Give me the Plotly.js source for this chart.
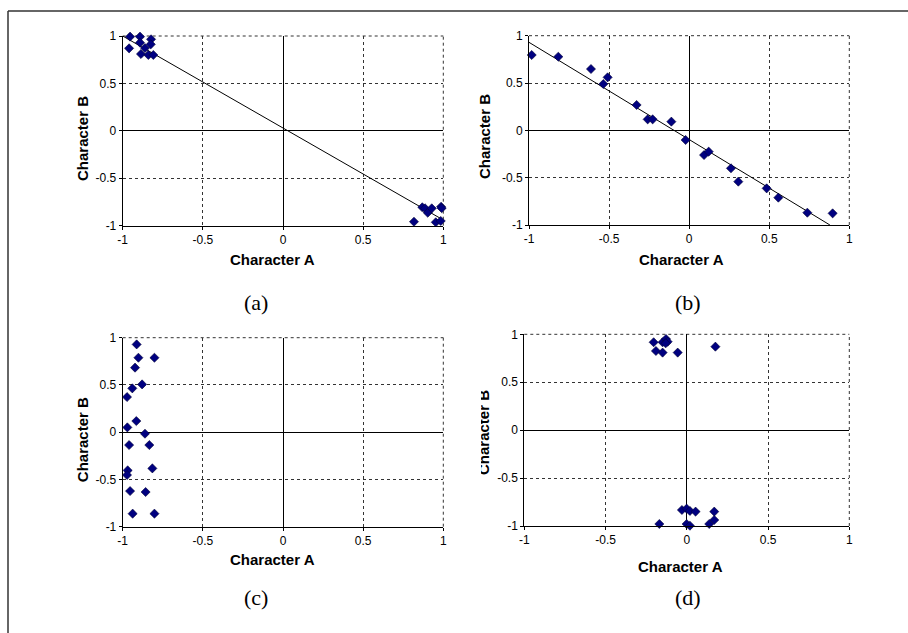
<!DOCTYPE html>
<html>
<head>
<meta charset="utf-8">
<script src="https://cdn.plot.ly/plotly-3.0.1.min.js"></script>
<style>
  html, body { margin: 0; padding: 0; background: #fff; }
  #wrap { position: relative; width: 908px; height: 633px; }
  #chart { width: 908px; height: 633px; }
  #clip { position: absolute; left: 452px; top: 370px; width: 29px; height: 130px; background: #fff; }
</style>
</head>
<body>
<div id="wrap">
  <div id="chart"></div>
  <div id="clip"></div>
</div>
<script>
// ---- data ----
const tickVals = [-1, -0.5, 0, 0.5, 1];
const tickText = ['-1', '-0.5', '0', '0.5', '1'];

const panelCaptions = ['(a)', '(b)', '(c)', '(d)'];
const xTitle = 'Character A';
const yTitle = 'Character B';

// panel (a)
const aX = [-0.954, -0.960, -0.892, -0.892, -0.886, -0.861, -0.840, -0.823, -0.825, -0.809,
            0.817, 0.869, 0.886, 0.903, 0.928, 0.953, 0.986, 0.984, 0.990];
const aY = [0.993, 0.870, 0.993, 0.930, 0.810, 0.873, 0.800, 0.965, 0.912, 0.800,
            -0.958, -0.806, -0.817, -0.863, -0.817, -0.964, -0.800, -0.950, -0.815];
const aTrendX = [-1, 1];
const aTrendY = [1.0, -0.94];

// panel (b)
const bX = [-0.983, -0.817, -0.613, -0.536, -0.509, -0.328, -0.259, -0.228, -0.111, -0.022,
            0.093, 0.122, 0.261, 0.307, 0.484, 0.557, 0.738, 0.896];
const bY = [0.796, 0.778, 0.648, 0.489, 0.560, 0.268, 0.116, 0.116, 0.092, -0.102,
            -0.261, -0.225, -0.401, -0.542, -0.613, -0.711, -0.870, -0.877];
const bTrendX = [-1, 0.879];
const bTrendY = [0.93, -1.0];

// panel (c)
const cX = [-0.913, -0.902, -0.802, -0.923, -0.940, -0.879, -0.973, -0.915, -0.971, -0.861,
            -0.960, -0.834, -0.969, -0.973, -0.815, -0.954, -0.857, -0.938, -0.802];
const cY = [0.929, 0.788, 0.788, 0.683, 0.464, 0.506, 0.372, 0.118, 0.051, -0.016,
            -0.136, -0.136, -0.404, -0.453, -0.383, -0.623, -0.633, -0.862, -0.862];

// panel (d)
const dX = [-0.204, -0.190, -0.149, -0.149, -0.128, -0.118, -0.130, -0.056, 0.176,
            -0.030, -0.001, 0.019, 0.054, 0.169, 0.169, 0.138, -0.001, 0.019, -0.169];
const dY = [0.917, 0.826, 0.917, 0.809, 0.951, 0.923, 0.906, 0.809, 0.871,
            -0.833, -0.819, -0.843, -0.850, -0.850, -0.937, -0.979, -0.979, -0.997, -0.979];

// ---- layout helpers ----
const W = 908, H = 633;
const px = v => v / W;
const py = v => 1 - v / H;

const marker = { symbol: 'diamond', size: 7, color: '#000080', line: { color: '#000033', width: 0.6 } };
const trendLine = { color: '#000', width: 1 };

function pts(x, y, xa, ya) {
  return { type: 'scatter', mode: 'markers', x: x, y: y, xaxis: xa, yaxis: ya, marker: marker, cliponaxis: false, hoverinfo: 'x+y' };
}
function trend(x, y, xa, ya) {
  return { type: 'scatter', mode: 'lines', x: x, y: y, xaxis: xa, yaxis: ya, line: trendLine, hoverinfo: 'skip' };
}

const data = [
  trend(aTrendX, aTrendY, 'x', 'y'), pts(aX, aY, 'x', 'y'),
  trend(bTrendX, bTrendY, 'x2', 'y2'), pts(bX, bY, 'x2', 'y2'),
  pts(cX, cY, 'x3', 'y3'),
  pts(dX, dY, 'x4', 'y4')
];

function axis(domain, anchor) {
  return {
    domain: domain, anchor: anchor, range: [-1, 1],
    tickmode: 'array', tickvals: tickVals, ticktext: tickText,
    showgrid: true, gridcolor: '#333', griddash: 'dot', gridwidth: 1,
    zeroline: true, zerolinecolor: '#000', zerolinewidth: 1,
    showline: true, linecolor: '#000', linewidth: 1,
    ticks: 'outside', ticklen: 3, tickcolor: '#000', tickwidth: 1,
    tickfont: { family: 'Liberation Sans, Arial, sans-serif', size: 12, color: '#000' },
    fixedrange: true
  };
}

// plot-area pixel boxes [left, right, top, bottom]
const boxes = [
  [122.7, 443.3, 36.0, 225.7],
  [529.0, 849.3, 35.7, 225.0],
  [122.7, 443.3, 337.7, 526.7],
  [524.3, 849.3, 334.3, 526.0]
];

const layout = {
  width: W, height: H,
  margin: { l: 0, r: 0, t: 0, b: 0 },
  paper_bgcolor: '#fff', plot_bgcolor: '#fff',
  showlegend: false,
  annotations: [], shapes: []
};

const axNames = [['xaxis', 'yaxis', 'x', 'y'], ['xaxis2', 'yaxis2', 'x2', 'y2'], ['xaxis3', 'yaxis3', 'x3', 'y3'], ['xaxis4', 'yaxis4', 'x4', 'y4']];
boxes.forEach((b, i) => {
  const [xk, yk, xr, yr] = axNames[i];
  layout[xk] = axis([px(b[0]), px(b[1])], yr);
  layout[yk] = axis([py(b[3]), py(b[2])], xr);
  // dotted top and right border
  layout.shapes.push({ type: 'line', layer: 'below', xref: xr + ' domain', yref: yr + ' domain', x0: 0, x1: 1, y0: 1, y1: 1, line: { color: '#333', width: 1, dash: 'dot' } });
  layout.shapes.push({ type: 'line', layer: 'below', xref: xr + ' domain', yref: yr + ' domain', x0: 1, x1: 1, y0: 0, y1: 1, line: { color: '#333', width: 1, dash: 'dot' } });
});

// axis titles [x-title center x, y], [y-title center x, y]
const xTitlePos = [[272.5, 259], [681, 259.3], [272.5, 559], [680.7, 566.7]];
const yTitlePos = [[82.7, 138.3], [485, 137], [82.7, 439.5], [483, 433]];
const captionPos = [[256, 302], [688, 302], [256, 597], [688, 597]];
const titleFont = { family: 'Liberation Sans, Arial, sans-serif', size: 15, color: '#000' };

for (let i = 0; i < 4; i++) {
  layout.annotations.push({ xref: 'paper', yref: 'paper', x: px(xTitlePos[i][0]), y: py(xTitlePos[i][1]),
    xanchor: 'center', yanchor: 'middle', text: '<b>' + xTitle + '</b>', showarrow: false, font: titleFont });
  layout.annotations.push({ xref: 'paper', yref: 'paper', x: px(yTitlePos[i][0]), y: py(yTitlePos[i][1]),
    xanchor: 'center', yanchor: 'middle', textangle: -90, text: '<b>' + yTitle + '</b>', showarrow: false, font: titleFont });
  layout.annotations.push({ xref: 'paper', yref: 'paper', x: px(captionPos[i][0]), y: py(captionPos[i][1]),
    xanchor: 'center', yanchor: 'middle', text: panelCaptions[i], showarrow: false,
    font: { family: 'Liberation Serif, DejaVu Serif, serif', size: 22, color: '#000' } });
}

// outer frame (left and top edges)
layout.shapes.push({ type: 'line', xref: 'paper', yref: 'paper', x0: px(8), x1: px(8), y0: 0, y1: py(11), line: { color: '#333', width: 1.5 } });
layout.shapes.push({ type: 'line', xref: 'paper', yref: 'paper', x0: px(8), x1: 1, y0: py(11), y1: py(11), line: { color: '#333', width: 1.5 } });

Plotly.newPlot('chart', data, layout, { displayModeBar: false, staticPlot: true });
</script>
</body>
</html>
